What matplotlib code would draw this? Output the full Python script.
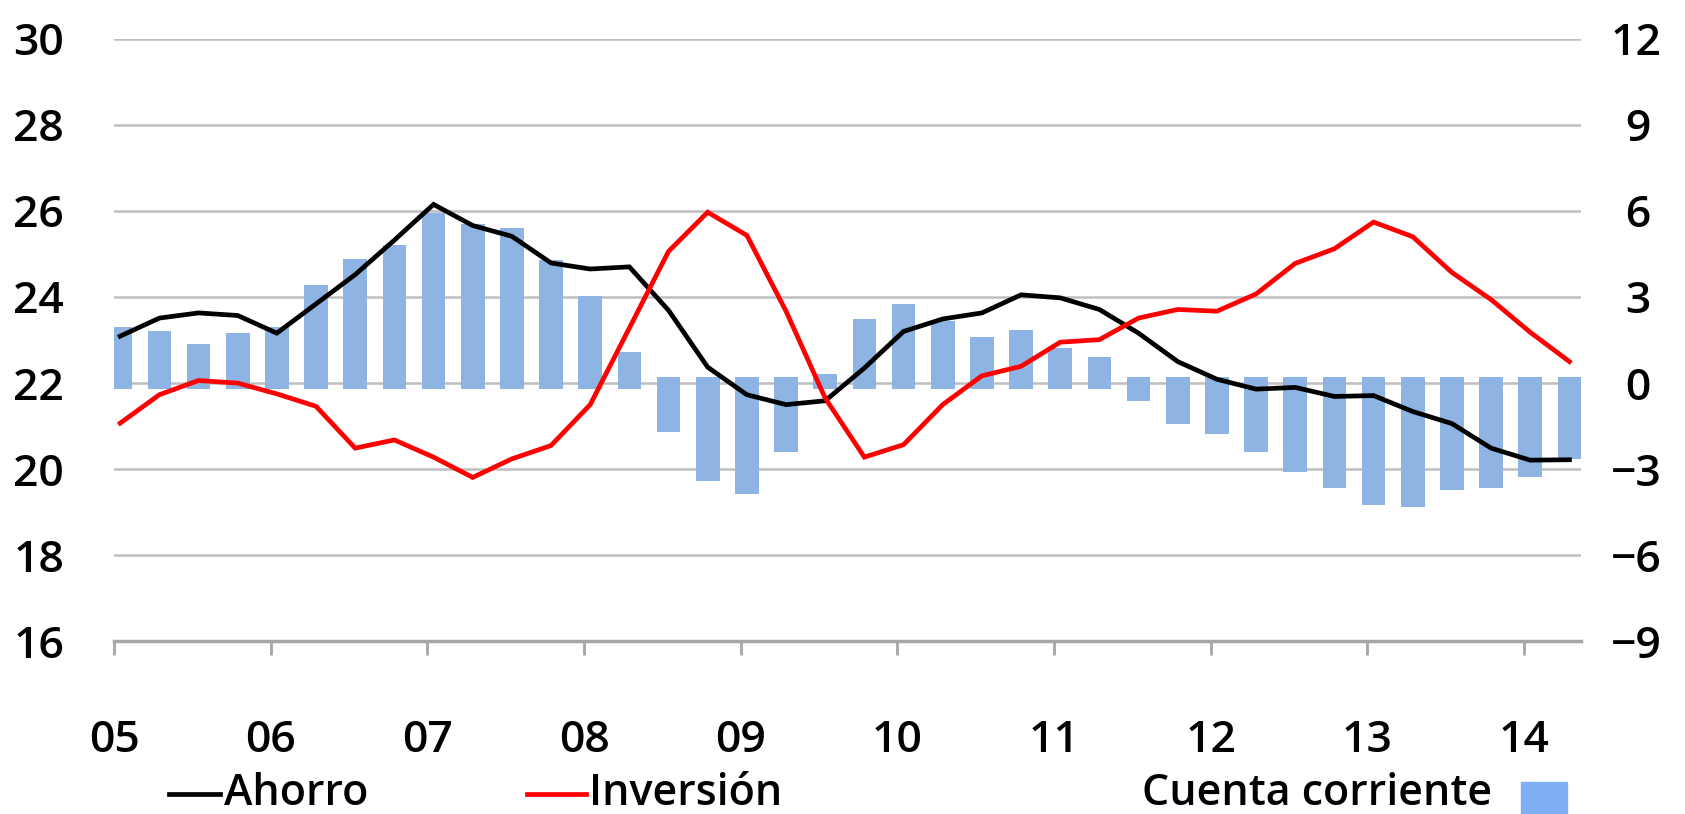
import numpy as np
import matplotlib
matplotlib.use("Agg")
import matplotlib.pyplot as plt
from matplotlib.lines import Line2D
from matplotlib.patches import Rectangle

plt.rcParams['font.family'] = ['Open Sans', 'DejaVu Sans']
plt.rcParams['font.weight'] = 'semibold'

# Datos trimestrales 2005T1 - 2014T2 (% del PIB)
ahorro = [23.09, 23.51, 23.63, 23.57, 23.16, 23.84, 24.52, 25.32, 26.15, 25.66,
          25.41, 24.79, 24.65, 24.70, 23.69, 22.37, 21.73, 21.50, 21.59, 22.35,
          23.20, 23.49, 23.63, 24.05, 23.98, 23.71, 23.16, 22.50, 22.09, 21.86,
          21.90, 21.69, 21.71, 21.34, 21.06, 20.49, 20.21, 20.22]
inversion = [21.07, 21.73, 22.06, 22.00, 21.75, 21.46, 20.49, 20.68, 20.28, 19.81,
             20.24, 20.55, 21.50, 23.28, 25.06, 25.97, 25.43, 23.67, 21.65, 20.28,
             20.57, 21.50, 22.17, 22.39, 22.95, 23.01, 23.51, 23.71, 23.67, 24.07,
             24.78, 25.12, 25.74, 25.40, 24.57, 23.94, 23.18, 22.50]
cuenta = [1.95, 1.80, 1.35, 1.74, 1.95, 3.43, 4.34, 4.81, 5.92, 5.55,
          5.42, 4.30, 3.05, 1.08, -1.69, -3.40, -3.88, -2.41, 0.33, 2.23,
          2.77, 2.15, 1.60, 1.84, 1.22, 0.92, -0.61, -1.43, -1.78, -2.41,
          -3.08, -3.64, -4.24, -4.33, -3.71, -3.64, -3.28, -2.65]
anios = ['05', '06', '07', '08', '09', '10', '11', '12', '13', '14']
izq_ticks = [16, 18, 20, 22, 24, 26, 28, 30]
der_ticks = [-9, -6, -3, 0, 3, 6, 9, 12]

n = len(ahorro)
x = 2005 + np.arange(n) / 4 + 0.039
cuenta = np.array(cuenta)

fig = plt.figure(figsize=(16.85, 8.14), dpi=100)
ax = fig.add_axes([0.0677, 0.212, 0.8703, 0.7405])   # barras (eje dcho)
ax2 = ax.twinx()                                       # lineas (eje izq)

# barras: Excel las dibuja un poco pasadas del cero
off = 0.21
base = np.where(cuenta >= 0, -off, off)
ax.bar(x, cuenta - base, bottom=base, width=0.151, color='#8EB4E3', zorder=2)
ax.set_ylim(-9, 12)
ax.set_yticks(der_ticks)
ax.set_yticklabels([str(v).replace('-', '\u2212') if v < 0 or v >= 10 else '\u2004' + str(v)
                    for v in der_ticks])
ax.yaxis.tick_right()
ax.grid(axis='y', color='#BFBFBF', linewidth=1.8, zorder=0)
ax.set_axisbelow(True)

ax2.plot(x, ahorro, color='black', lw=3.4, solid_joinstyle='miter')
ax2.plot(x, inversion, color='#FF0000', lw=3.4, solid_joinstyle='miter')
ax2.set_ylim(16, 30)
ax2.set_yticks(izq_ticks)
ax2.yaxis.tick_left()

ax.set_xlim(2005, 2014.36)
ax.set_xticks(np.arange(2005, 2015))
ax.set_xticklabels(anios)

for a in (ax, ax2):
    for s in ['top', 'left', 'right', 'bottom']:
        a.spines[s].set_visible(False)
ax.spines['bottom'].set_visible(True)
ax.spines['bottom'].set_color('#A6A6A6')
ax.spines['bottom'].set_linewidth(2.5)

ax.tick_params(axis='x', direction='out', length=10, width=2, color='#A6A6A6',
               labelsize=32, pad=46)
ax.tick_params(axis='y', length=0, labelsize=32, pad=22)
ax2.tick_params(axis='y', length=0, labelsize=32, pad=36)
for lab in ax.get_yticklabels():
    lab.set_horizontalalignment('left')

# leyenda a mano
yl = 0.025
fig.add_artist(Line2D([169 / 1685, 220 / 1685], [yl, yl], color='black', lw=3.4))
fig.text(224 / 1685, yl, 'Ahorro', fontsize=31, va='center')
fig.add_artist(Line2D([527 / 1685, 586 / 1685], [yl, yl], color='#FF0000', lw=3.4))
fig.text(589 / 1685, yl, 'Inversión', fontsize=31, va='center')
fig.text(1492 / 1685, yl, 'Cuenta corriente', fontsize=31, va='center', ha='right')
fig.add_artist(Rectangle((1521 / 1685, 0.0), 46 / 1685, 32 / 814, color='#7FAEF5'))

fig.savefig('out.png', dpi=100)
